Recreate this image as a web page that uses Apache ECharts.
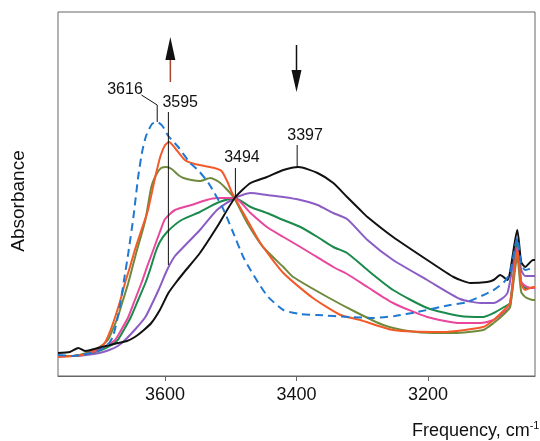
<!DOCTYPE html>
<html><head><meta charset="utf-8">
<script src="https://cdn.jsdelivr.net/npm/echarts@6/dist/echarts.min.js"></script>
<style>html,body{margin:0;padding:0;background:#fff}#c{width:540px;height:441px}</style>
</head><body><div id="c"></div>
<script>
// Frequency (cm-1) vs absorbance (arbitrary units)
const xTicks = [3600, 3400, 3200];
const spectrumBlue = [[3763,0.105],[3740,0.1],[3720,0.11],[3702,0.125],[3690,0.15],[3684,0.17],[3679,0.2],[3673,0.28],[3668,0.365],[3662,0.49],[3656,0.615],[3648,0.8],[3641,0.995],[3635,1.12],[3629,1.2],[3620,1.26],[3612,1.27],[3604,1.25],[3595,1.2],[3580,1.145],[3562,1.065],[3550,1.03],[3534,0.965],[3513,0.845],[3498,0.73],[3481,0.595],[3470,0.53],[3455,0.45],[3443,0.395],[3420,0.33],[3395,0.31],[3368,0.305],[3318,0.295],[3283,0.29],[3250,0.3],[3216,0.32],[3166,0.355],[3140,0.37],[3100,0.43],[3084,0.47],[3075,0.515],[3064,0.69],[3058,0.56],[3052,0.53],[3040,0.54],[3037,0.54]];
const spectrumOrange = [[3763,0.095],[3740,0.1],[3720,0.11],[3707,0.13],[3698,0.145],[3691,0.17],[3683,0.23],[3676,0.295],[3668,0.38],[3661,0.465],[3653,0.55],[3646,0.63],[3636,0.73],[3626,0.83],[3615,0.995],[3607,1.1],[3600,1.155],[3594,1.17],[3585,1.14],[3570,1.08],[3555,1.06],[3540,1.05],[3525,1.04],[3514,1.025],[3505,0.97],[3498,0.915],[3475,0.78],[3455,0.665],[3420,0.515],[3375,0.39],[3333,0.305],[3303,0.28],[3253,0.23],[3177,0.22],[3116,0.245],[3100,0.28],[3084,0.33],[3075,0.365],[3064,0.63],[3058,0.46],[3052,0.43],[3040,0.445],[3037,0.445]];
const spectrumOlive = [[3763,0.1],[3740,0.1],[3720,0.115],[3700,0.145],[3687,0.18],[3680,0.23],[3672,0.295],[3664,0.38],[3656,0.465],[3644,0.615],[3630,0.78],[3621,0.945],[3613,1.01],[3606,1.04],[3598,1.045],[3590,1.035],[3580,1.005],[3572,0.99],[3560,0.98],[3547,0.975],[3531,0.99],[3516,0.965],[3496,0.895],[3475,0.765],[3451,0.645],[3420,0.545],[3405,0.495],[3353,0.395],[3310,0.32],[3268,0.255],[3230,0.225],[3192,0.215],[3160,0.215],[3116,0.23],[3100,0.265],[3084,0.31],[3075,0.345],[3064,0.595],[3058,0.42],[3052,0.395],[3040,0.38],[3037,0.38]];
const spectrumPink = [[3763,0.1],[3740,0.1],[3720,0.11],[3702,0.13],[3690,0.15],[3676,0.18],[3666,0.235],[3656,0.295],[3646,0.38],[3636,0.465],[3627,0.55],[3618,0.63],[3608,0.72],[3600,0.785],[3585,0.83],[3560,0.855],[3537,0.88],[3521,0.89],[3494,0.89],[3470,0.815],[3445,0.745],[3420,0.695],[3394,0.645],[3379,0.615],[3344,0.545],[3323,0.51],[3292,0.445],[3253,0.365],[3201,0.295],[3151,0.265],[3120,0.265],[3100,0.28],[3084,0.32],[3075,0.345],[3064,0.645],[3058,0.47],[3049,0.445],[3040,0.44],[3037,0.44]];
const spectrumGreen = [[3763,0.1],[3740,0.1],[3720,0.11],[3697,0.13],[3684,0.15],[3672,0.18],[3662,0.235],[3652,0.295],[3641,0.38],[3630,0.465],[3622,0.54],[3615,0.615],[3608,0.67],[3597,0.72],[3575,0.78],[3547,0.82],[3521,0.865],[3494,0.89],[3470,0.845],[3445,0.815],[3420,0.78],[3394,0.745],[3368,0.695],[3344,0.645],[3323,0.615],[3292,0.53],[3253,0.43],[3201,0.34],[3151,0.3],[3116,0.295],[3100,0.315],[3084,0.345],[3075,0.365],[3064,0.665],[3058,0.47],[3052,0.44],[3040,0.44],[3037,0.44]];
const spectrumPurple = [[3763,0.1],[3740,0.1],[3720,0.105],[3700,0.115],[3685,0.13],[3672,0.15],[3661,0.18],[3645,0.235],[3630,0.295],[3620,0.36],[3610,0.43],[3597,0.53],[3585,0.6],[3572,0.645],[3547,0.73],[3521,0.83],[3494,0.89],[3470,0.915],[3445,0.905],[3420,0.895],[3394,0.88],[3368,0.855],[3344,0.815],[3323,0.785],[3292,0.68],[3253,0.58],[3201,0.48],[3151,0.385],[3120,0.365],[3100,0.365],[3079,0.415],[3064,0.68],[3058,0.53],[3052,0.5],[3040,0.5],[3037,0.5]];
const spectrumBlack = [[3763,0.115],[3745,0.12],[3732,0.14],[3722,0.125],[3713,0.13],[3690,0.15],[3672,0.165],[3658,0.175],[3646,0.195],[3634,0.225],[3621,0.265],[3608,0.33],[3595,0.415],[3584,0.465],[3572,0.515],[3547,0.615],[3521,0.745],[3494,0.89],[3470,0.965],[3445,0.995],[3420,1.03],[3397,1.045],[3368,1.015],[3344,0.965],[3323,0.895],[3303,0.83],[3292,0.795],[3253,0.695],[3201,0.58],[3161,0.495],[3135,0.465],[3110,0.47],[3100,0.48],[3090,0.505],[3079,0.48],[3064,0.73],[3058,0.57],[3052,0.545],[3040,0.58],[3037,0.58]];
const peakLabels = ['3616', '3595', '3494', '3397'];
const peakFreqs = [3612, 3595, 3493, 3399];

const chart = echarts.init(document.getElementById('c'), null, {renderer: 'canvas'});
function lineSeries(data, color, dashed) {
  return {
    type: 'line', data: data, symbol: 'none', smooth: 0.2, silent: true,
    lineStyle: {color: color, width: 2, type: dashed ? [8, 5] : 'solid'},
    z: dashed ? 4 : 3
  };
}
const blk = '#111';
function annot(data) {
  return {type: 'line', data: data, symbol: 'none', silent: true, z: 5,
    lineStyle: {color: blk, width: 1}};
}
const font = 'Liberation Sans, Arial, sans-serif';
chart.setOption({
  animation: false,
  grid: {left: 58, right: 5, top: 12, bottom: 65, show: true, borderColor: '#666', borderWidth: 1},
  xAxis: {
    type: 'value', inverse: true, min: 3037, max: 3763,
    splitLine: {show: false},
    axisLine: {show: true, lineStyle: {color: '#666'}},
    axisTick: {show: true, customValues: xTicks, length: 5, inside: false, lineStyle: {color: '#666'}},
    axisLabel: {customValues: xTicks, margin: 10, color: '#111', fontSize: 18, fontFamily: font,
      formatter: function (v) { return String(v); }}
  },
  yAxis: {
    type: 'value', min: 0, max: 1.82,
    splitLine: {show: false}, axisLabel: {show: false}, axisTick: {show: false},
    axisLine: {show: false}
  },
  series: [
    lineSeries(spectrumPurple, '#8b5cc4'),
    lineSeries(spectrumGreen, '#1b8a4c'),
    lineSeries(spectrumPink, '#e8479c'),
    lineSeries(spectrumOlive, '#6f8a3c'),
    lineSeries(spectrumOrange, '#f25a2a'),
    lineSeries(spectrumBlack, '#111111'),
    lineSeries(spectrumBlue, '#1f78d1', true),
    annot([[3636, 1.405], [peakFreqs[0], 1.355], [peakFreqs[0], 1.27]]),
    annot([[peakFreqs[1], 1.32], [peakFreqs[1], 0.555]]),
    annot([[peakFreqs[2], 1.04], [peakFreqs[2], 0.895]]),
    annot([[peakFreqs[3], 1.155], [peakFreqs[3], 1.045]])
  ]
});

function P(f, a) { return chart.convertToPixel({gridIndex: 0}, [f, a]); }
const g = [];
function label(txt, f, a) {
  const p = P(f, a);
  g.push({type: 'text', x: p[0], y: p[1], z: 10, style: {text: txt, fill: blk, font: '16px ' + font, textAlign: 'center', textVerticalAlign: 'middle'}});
}
label(peakLabels[0], 3661, 1.43);
label(peakLabels[1], 3577, 1.365);
label(peakLabels[2], 3483, 1.09);
label(peakLabels[3], 3387, 1.2);

function arrow(f, aTail, aBase, aTip, stemColor) {
  const t = P(f, aTail), b = P(f, aBase), tip = P(f, aTip);
  g.push({type: 'line', z: 10, shape: {x1: t[0], y1: t[1], x2: b[0], y2: b[1]}, style: {stroke: stemColor, lineWidth: 1.5}});
  g.push({type: 'polygon', z: 10, shape: {points: [[tip[0], tip[1]], [b[0] - 5, b[1]], [b[0] + 5, b[1]]]}, style: {fill: blk}});
}
arrow(3592, 1.47, 1.58, 1.695, '#a8452e');
arrow(3400, 1.655, 1.53, 1.42, blk);

g.push({type: 'text', x: 19, y: 201, rotation: Math.PI / 2, z: 10,
  style: {text: 'Absorbance', fill: blk, font: '19px ' + font, textAlign: 'center', textVerticalAlign: 'middle'}});
g.push({type: 'text', x: 412, y: 431, z: 10,
  style: {text: '{a|Frequency, cm}{s|-1}', textVerticalAlign: 'middle',
    rich: {a: {fontSize: 18, fontFamily: font, fill: blk}, s: {fontSize: 11, fontFamily: font, fill: blk, padding: [0, 0, 10, 0]}}}});
chart.setOption({graphic: g});
</script></body></html>
